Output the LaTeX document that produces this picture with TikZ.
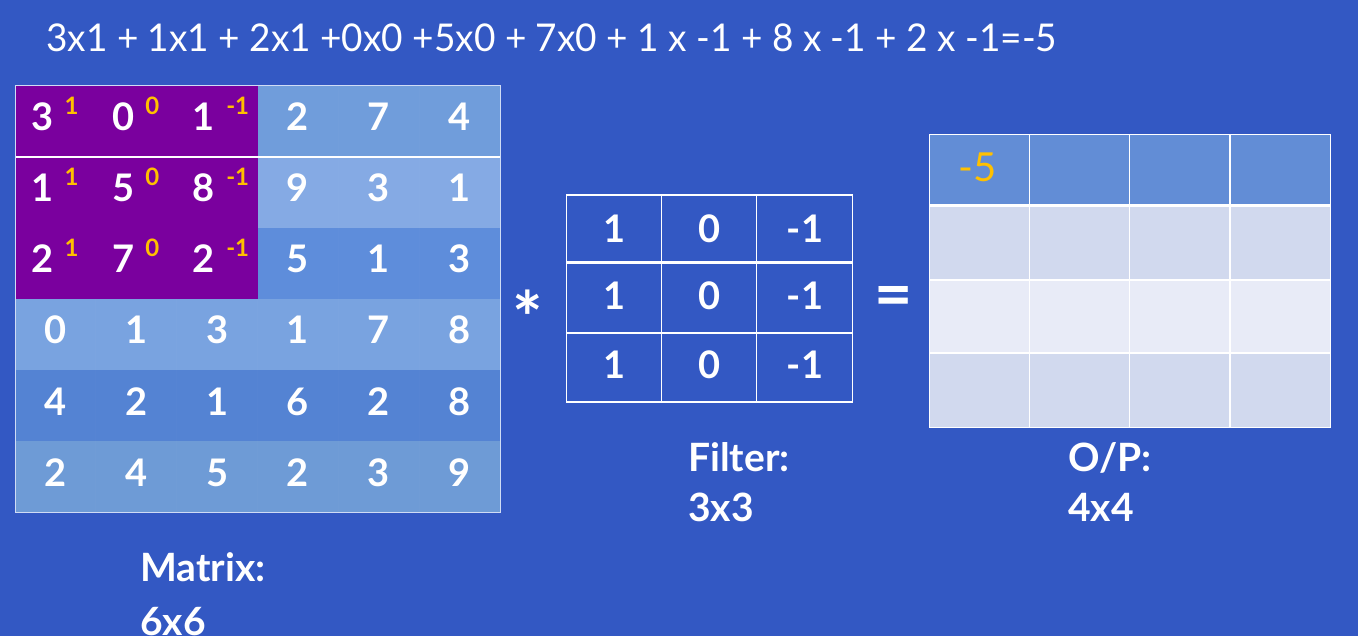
\documentclass[tikz,border=0pt]{standalone}
\usepackage{fontspec}
\usepackage{graphicx}
\setmainfont{Lato}
\definecolor{bg}{HTML}{3358C3}
\definecolor{purp}{HTML}{7A009E}
\definecolor{gold}{HTML}{FFC000}
\definecolor{rA}{HTML}{709DDB}
\definecolor{rB}{HTML}{85AAE4}
\definecolor{rC}{HTML}{5E8DDB}
\definecolor{rD}{HTML}{79A3E0}
\definecolor{rE}{HTML}{5483D3}
\definecolor{rF}{HTML}{6E9BD6}
\definecolor{oA}{HTML}{628DD6}
\definecolor{oB}{HTML}{D1D9EE}
\definecolor{oC}{HTML}{E8EBF7}
\definecolor{bord}{HTML}{D0DCF5}
\tikzset{
  num/.style={text=white, font=\fontsize{38}{40}\selectfont\bfseries, inner sep=0pt},
  supnum/.style={text=gold, font=\fontsize{24}{25}\selectfont\bfseries, inner sep=0pt},
  lbl/.style={text=white, font=\fontsize{39}{40}\selectfont\bfseries, inner sep=0pt},
  gridline/.style={white, line width=1.2pt},
  thickline/.style={white, line width=3pt},
}
\begin{document}
\begin{tikzpicture}[x=1pt,y=-1pt]
\fill[bg] (0,0) rectangle (1358,636);
\useasboundingbox (0,0) rectangle (1358,636);

% title
\node[anchor=base west, inner sep=0pt, text=white] (title) at (46,51.7)
  {\resizebox{1011pt}{27.7pt}{\fontsize{30}{30}\selectfont 3x1 + 1x1 + 2x1 +0x0 +5x0 + 7x0 + 1 x -1 + 8 x -1 + 2 x -1=-5}};

% input matrix
\foreach \r/\c in {1/rA,2/rB,3/rC,4/rD,5/rE,6/rF}
  \fill[\c] (15,{86+(\r-1)*71}) rectangle (500,{86+\r*71});
\foreach \c in {1,...,5}
  \draw[white, opacity=0.015, line width=0.8pt] ({15+\c*80.83},86) -- ({15+\c*80.83},512);
\fill[purp] (15,86) rectangle (257.5,299);
\draw[white, line width=2.5pt] (15,157) -- (500,157);
\draw[bord, line width=1pt] (15,86) rectangle (500,512);

\foreach \row [count=\r] in {{3,0,1,2,7,4},{1,5,8,9,3,1},{2,7,2,5,1,3},{0,1,3,1,7,8},{4,2,1,6,2,8},{2,4,5,2,3,9}}{
  \foreach \v [count=\c] in \row {
    \pgfmathtruncatemacro\inp{and(\r<4,\c<4)}
    \ifnum\inp=0
      \node[num, anchor=base] (m-\r-\c) at ({15+(\c-0.5)*80.83},{86+(\r-1)*71+45}) {\v};
    \fi
  }
}
\foreach \row [count=\r] in {{3/1,0/0,1/-1},{1/1,5/0,8/-1},{2/1,7/0,2/-1}}{
  \foreach \v/\s [count=\c] in \row {
    \node[num, anchor=base east] (m-\r-\c) at ({15+(\c-0.5)*80.83-2},{86+(\r-1)*71+45}) {\v};
    \node[supnum, anchor=base west] (s-\r-\c) at ([xshift=11pt,yshift=16pt]m-\r-\c.base east) {\s};
  }
}

% operator symbols
\node[text=white, font=\fontsize{72}{74}\selectfont\bfseries, inner sep=0pt, anchor=north] (ast) at (528,290) {*};
\node[text=white, font=\fontsize{66}{68}\selectfont\bfseries, inner sep=0pt, anchor=north] (eq) at (893.5,286) {=};

% filter
\draw[gridline] (566.7,195) rectangle (852.7,402);
\draw[gridline] (661.7,195) -- (661.7,402);
\draw[gridline] (756.7,195) -- (756.7,402);
\draw[gridline] (566.7,333) -- (852.7,333);
\draw[thickline] (566.7,263) -- (852.7,263);
\foreach \b [count=\r] in {242.7,310,378.3}{
  \foreach \v [count=\c] in {1,0,-1}{
    \node[num, anchor=base] (f-\r-\c) at ({566.7+(\c-0.5)*95.33},\b) {\v};
  }
}

% output
\fill[oA] (929.3,134.3) rectangle (1330.7,206);
\fill[oB] (929.3,206) rectangle (1330.7,280);
\fill[oC] (929.3,280) rectangle (1330.7,353);
\fill[oB] (929.3,353) rectangle (1330.7,427.3);
\draw[gridline] (929.3,134.3) rectangle (1330.7,427.3);
\foreach \x in {1029.3,1129.3,1230}
  \draw[gridline] (\x,134.3) -- (\x,427.3);
\draw[gridline] (929.3,280) -- (1330.7,280);
\draw[gridline] (929.3,353) -- (1330.7,353);
\draw[thickline] (929.3,206) -- (1330.7,206);
\node[text=gold, font=\fontsize{40}{42}\selectfont, inner sep=0pt, anchor=base] (o-1-1) at (978,181.7) {-5};

% labels
\node[lbl, anchor=base west] (matlab) at (140,581) {Matrix:};
\node[lbl, anchor=base west] (matdim) at (140,635) {6x6};
\node[lbl, anchor=base west] (fillab) at (688,471.7) {Filter:};
\node[lbl, anchor=base west] (fildim) at (688,521.7) {3x3};
\node[lbl, anchor=base west] (oplab) at (1068,471.7) {O/P:};
\node[lbl, anchor=base west] (opdim) at (1068,521.7) {4x4};
\end{tikzpicture}
\end{document}
